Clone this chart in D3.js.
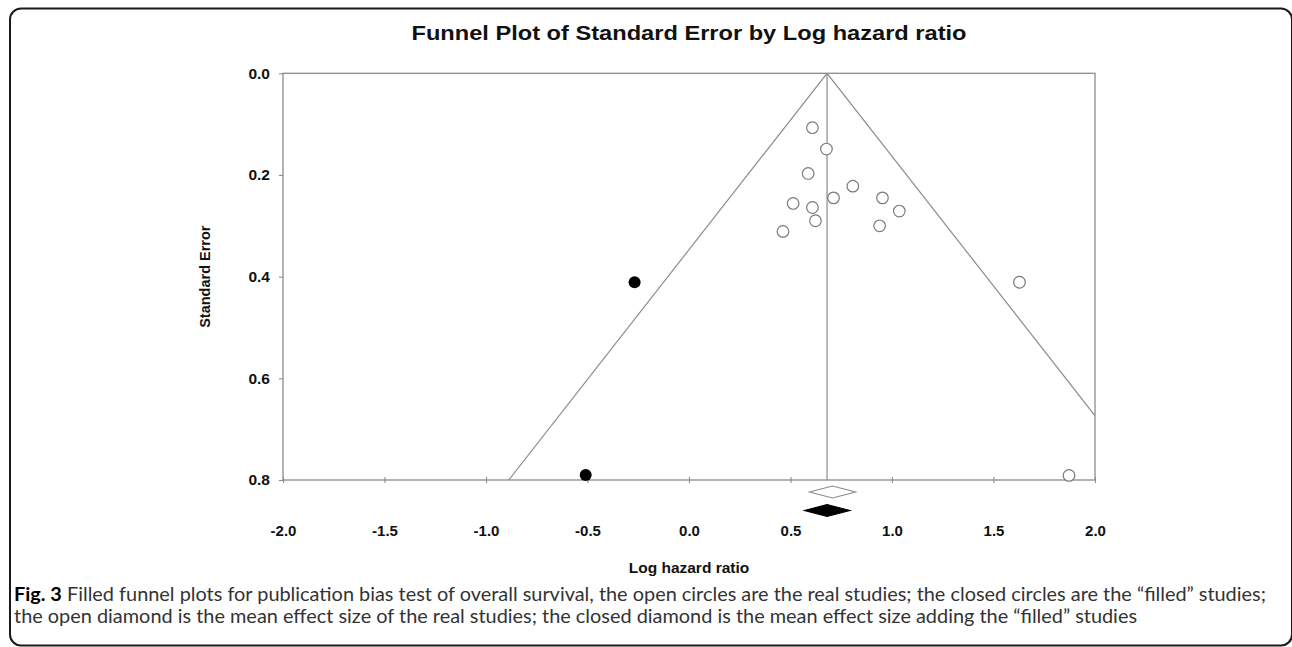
<!DOCTYPE html>
<html><head><meta charset="utf-8">
<script src="https://cdn.jsdelivr.net/npm/d3@7"></script>
<style>
html,body{margin:0;padding:0;background:#fff;}
svg{display:block;}
</style></head><body>
<svg id="chart" width="1292" height="647"></svg>
<script>
// ---------- data ----------
const titleText = "Funnel Plot of Standard Error by Log hazard ratio";
const xLabelText = "Log hazard ratio";
const yLabelText = "Standard Error";
const xTickValues = [-2.0, -1.5, -1.0, -0.5, 0.0, 0.5, 1.0, 1.5, 2.0];
const yTickValues = [0.0, 0.2, 0.4, 0.6, 0.8];
// observed (real) studies: log hazard ratio and standard error
const observedLogHR = [0.608, 0.677, 0.587, 0.807, 0.513, 0.608, 0.712, 0.953, 1.036, 0.623, 0.463, 0.939, 1.628, 1.872];
const observedSE    = [0.107, 0.149, 0.197, 0.222, 0.256, 0.264, 0.245, 0.245, 0.271, 0.290, 0.311, 0.300, 0.411, 0.791];
// imputed ("filled") studies
const filledLogHR = [-0.268, -0.509];
const filledSE    = [0.411, 0.790];
// funnel centre (adjusted mean) and the two summary diamonds
const funnelCenter = 0.68;
const diamondNames  = ["observed", "adjusted"];
const diamondMean   = [0.707, 0.680];
const diamondLower  = [0.593, 0.568];
const diamondUpper  = [0.821, 0.793];
const captionBold = "Fig. 3";
const captionLine1 = " Filled funnel plots for publication bias test of overall survival, the open circles are the real studies; the closed circles are the \u201cfilled\u201d studies;";
const captionLine2 = "the open diamond is the mean effect size of the real studies; the closed diamond is the mean effect size adding the \u201cfilled\u201d studies";

// ---------- layout ----------
const svg = d3.select("#chart");
const plot = {left: 283, right: 1095, top: 73.3, bottom: 480};
const x = d3.scaleLinear().domain([-2, 2]).range([plot.left, plot.right]);
const y = d3.scaleLinear().domain([0, 0.8]).range([plot.top, plot.bottom]);
const axisColor = "#8c8c8c";
const boldFont = "'Liberation Sans', Arial, sans-serif";
const fmt = d => d.toFixed(1);

// outer rounded frame
svg.append("rect")
  .attr("x", 10).attr("y", 8.5).attr("width", 1282).attr("height", 637)
  .attr("rx", 11).attr("ry", 11)
  .attr("fill", "none").attr("stroke", "#1a1a1a").attr("stroke-width", 2);

// title (stretched to the width it occupies in the figure)
svg.append("text")
  .attr("x", (plot.left + plot.right) / 2).attr("y", 40)
  .attr("text-anchor", "middle")
  .attr("font-family", boldFont).attr("font-weight", "bold")
  .attr("font-size", 19.5).attr("fill", "#111")
  .attr("textLength", 555).attr("lengthAdjust", "spacingAndGlyphs")
  .text(titleText);

// clip
svg.append("clipPath").attr("id", "clip")
  .append("rect").attr("x", plot.left).attr("y", plot.top)
  .attr("width", plot.right - plot.left).attr("height", plot.bottom - plot.top);

const g = svg.append("g");

// funnel lines
const seMax = 0.8;
const funnel = [
  [[funnelCenter, 0], [funnelCenter - 1.96 * seMax, seMax]],
  [[funnelCenter, 0], [funnelCenter + 1.96 * seMax, seMax]],
  [[funnelCenter, 0], [funnelCenter, seMax]]
];
g.append("g").attr("clip-path", "url(#clip)")
  .selectAll("line").data(funnel).join("line")
  .attr("x1", d => x(d[0][0])).attr("y1", d => y(d[0][1]))
  .attr("x2", d => x(d[1][0])).attr("y2", d => y(d[1][1]))
  .attr("stroke", axisColor).attr("stroke-width", 1.2);

// plot frame
g.append("rect")
  .attr("x", plot.left).attr("y", plot.top)
  .attr("width", plot.right - plot.left).attr("height", plot.bottom - plot.top)
  .attr("fill", "none").attr("stroke", axisColor).attr("stroke-width", 1.3);

// x axis (ticks crossing the axis line)
const xAxis = d3.axisBottom(x).tickValues(xTickValues).tickSize(0).tickFormat(fmt);
const xg = g.append("g").attr("transform", `translate(0,${plot.bottom})`).call(xAxis);
xg.select(".domain").remove();
xg.selectAll(".tick").append("line").attr("y1", -3).attr("y2", 3).attr("stroke", axisColor).attr("stroke-width", 1.1);
xg.selectAll(".tick text")
  .attr("y", 56).attr("dy", 0)
  .attr("font-family", boldFont).attr("font-weight", "bold").attr("font-size", 15).attr("fill", "#111");

// y axis
const yAxis = d3.axisLeft(y).tickValues(yTickValues).tickSize(4).tickPadding(9).tickFormat(fmt);
const yg = g.append("g").attr("transform", `translate(${plot.left},0)`).call(yAxis);
yg.select(".domain").remove();
yg.selectAll(".tick line").attr("stroke", axisColor).attr("stroke-width", 1.1);
yg.selectAll(".tick text")
  .attr("font-family", boldFont).attr("font-weight", "bold").attr("font-size", 15.5).attr("fill", "#111");

// axis labels
svg.append("text")
  .attr("x", (plot.left + plot.right) / 2).attr("y", 573)
  .attr("text-anchor", "middle")
  .attr("font-family", boldFont).attr("font-weight", "bold").attr("font-size", 15.5).attr("fill", "#111")
  .text(xLabelText);
svg.append("text")
  .attr("transform", `translate(210,${(plot.top + plot.bottom) / 2}) rotate(-90)`)
  .attr("text-anchor", "middle")
  .attr("font-family", boldFont).attr("font-weight", "bold").attr("font-size", 14.5).attr("fill", "#111")
  .text(yLabelText);

// points
const observed = observedLogHR.map((v, i) => ({x: v, se: observedSE[i]}));
const filled = filledLogHR.map((v, i) => ({x: v, se: filledSE[i]}));
g.append("g").selectAll("circle").data(observed).join("circle")
  .attr("cx", d => x(d.x)).attr("cy", d => y(d.se)).attr("r", 5.8)
  .attr("fill", "#fff").attr("stroke", "#7a7a7a").attr("stroke-width", 1.2);
g.append("g").selectAll("circle").data(filled).join("circle")
  .attr("cx", d => x(d.x)).attr("cy", d => y(d.se)).attr("r", 6)
  .attr("fill", "#000");

// diamonds
const diamondY = [492, 510.5];
const diamonds = diamondNames.map((n, i) => ({name: n, mean: diamondMean[i], lo: diamondLower[i], hi: diamondUpper[i], cy: diamondY[i]}));
g.append("g").selectAll("path").data(diamonds).join("path")
  .attr("d", d => `M${x(d.lo)},${d.cy} L${x(d.mean)},${d.cy - 6} L${x(d.hi)},${d.cy} L${x(d.mean)},${d.cy + 6} Z`)
  .attr("fill", d => d.name === "observed" ? "#fff" : "#000")
  .attr("stroke", d => d.name === "observed" ? "#8a8a8a" : "#000")
  .attr("stroke-width", 1.1);

// caption
const capFont = "Lato, 'Open Sans', sans-serif";
const cap = svg.append("g").attr("font-family", capFont).attr("font-size", 17.5);
const t1 = cap.append("text").attr("x", 14).attr("y", 601);
t1.append("tspan").attr("font-weight", "bold").attr("fill", "#000").text(captionBold);
t1.append("tspan").attr("fill", "#333").text(captionLine1);
cap.append("text").attr("x", 14).attr("y", 623).attr("fill", "#333").text(captionLine2);
// fit caption line 1 to its width in the figure
const target = 1253;
const len = t1.node().getComputedTextLength();
cap.attr("font-size", 17.5 * target / len);
</script>
</body></html>
